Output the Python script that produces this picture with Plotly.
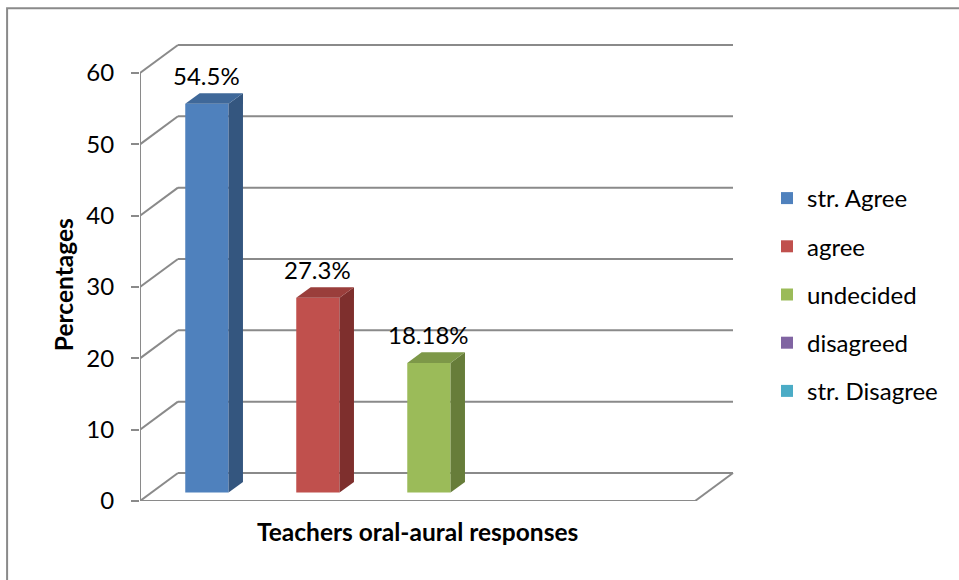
import plotly.graph_objects as go

# ---- data ----
categories = ["str. Agree", "agree", "undecided", "disagreed", "str. Disagree"]
values = [54.5, 27.3, 18.18, 0, 0]
labels = ["54.5%", "27.3%", "18.18%", "", ""]
y_ticks = [0, 10, 20, 30, 40, 50, 60]

front_colors = ["#4F81BD", "#C0504D", "#9BBB59", "#8064A2", "#4BACC6"]
side_colors = ["#34567F", "#7E2F2D", "#677D3A", "#55436D", "#327385"]
top_colors = ["#3F6899", "#9A3E3B", "#7D9848", "#675183", "#3C8CA2"]

FONT = "Lato"
GRID = "#8a8a8a"

# 3D geometry (in axis units)
D = 0.342      # depth in x units
DY = 3.93      # depth in y units
f1, f2 = 0.30, 0.68
bw = 0.39
x0, x1 = -0.5, len(categories) - 0.5

fig = go.Figure()

# front faces (bars, also provide legend)
for i, (c, v) in enumerate(zip(categories, values)):
    fig.add_trace(go.Bar(
        x=[i + f1 * D], y=[v], base=[f1 * DY], width=bw,
        name=c, legendgroup=c,
        marker=dict(color=front_colors[i], line=dict(width=0)),
        hoverinfo="skip",
    ))

# side and top faces
for i, v in enumerate(values):
    if v <= 0:
        continue
    xc = i + f1 * D
    xl, xr = xc - bw / 2, xc + bw / 2
    b = f1 * DY
    dd, ddy = (f2 - f1) * D, (f2 - f1) * DY
    fig.add_trace(go.Scatter(
        x=[xr, xr, xr + dd, xr + dd, xr], y=[b, v + b, v + b + ddy, b + ddy, b],
        fill="toself", fillcolor=side_colors[i], mode="lines",
        line=dict(width=0, color=side_colors[i]), showlegend=False, hoverinfo="skip"))
    fig.add_trace(go.Scatter(
        x=[xl, xr, xr + dd, xl + dd, xl], y=[v + b, v + b, v + b + ddy, v + b + ddy, v + b],
        fill="toself", fillcolor=top_colors[i], mode="lines",
        line=dict(width=0, color=top_colors[i]), showlegend=False, hoverinfo="skip"))

shapes = []
# gridlines on back/left walls
for t in y_ticks:
    shapes.append(dict(type="line", xref="x", yref="y", x0=x0, y0=t, x1=x0 + D, y1=t + DY,
                       line=dict(color=GRID, width=2), layer="below"))
    shapes.append(dict(type="line", xref="x", yref="y", x0=x0 + D, y0=t + DY, x1=x1 + D, y1=t + DY,
                       line=dict(color=GRID, width=2), layer="below"))
# floor front edge and right edge
shapes.append(dict(type="line", xref="x", yref="y", x0=x0, y0=0, x1=x1, y1=0,
                   line=dict(color=GRID, width=2), layer="below"))
shapes.append(dict(type="line", xref="x", yref="y", x0=x1, y0=0, x1=x1 + D, y1=DY,
                   line=dict(color=GRID, width=2), layer="below"))
# front vertical axis
shapes.append(dict(type="line", xref="x", yref="y", x0=x0, y0=0, x1=x0, y1=y_ticks[-1],
                   line=dict(color=GRID, width=2), layer="below"))
# chart border
shapes.append(dict(type="rect", xref="paper", yref="paper", x0=-0.223, y0=-0.5, x1=1.6, y1=1.069,
                   line=dict(color="#8a8a8a", width=2), layer="below"))

annotations = []
for i, (v, lab) in enumerate(zip(values, labels)):
    if not lab:
        continue
    annotations.append(dict(x=i + f1 * D, y=v + f2 * DY, xref="x", yref="y", text=lab,
                            showarrow=False, yanchor="bottom", yshift=1,
                            font=dict(family=FONT, size=24, color="black")))
annotations.append(dict(x=-0.129, y=0.4685, xref="paper", yref="paper", text="<b>Percentages</b>",
                        xanchor="center", yanchor="middle",
                        textangle=-90, showarrow=False, font=dict(family=FONT, size=24.5, color="black")))
annotations.append(dict(x=0.465, y=-0.067, xref="paper", yref="paper",
                        text="<b>Teachers oral-aural responses</b>", xanchor="center", yanchor="middle",
                        showarrow=False, font=dict(family=FONT, size=24.5, color="black")))

fig.update_layout(
    width=959, height=580,
    margin=dict(l=140, r=223, t=40, b=79),
    paper_bgcolor="white", plot_bgcolor="white",
    barmode="overlay",
    showlegend=True,
    legend=dict(x=1.052, y=0.705, xanchor="left", yanchor="top", tracegroupgap=14,
                font=dict(family=FONT, size=24, color="black"), bgcolor="rgba(0,0,0,0)"),
    xaxis=dict(range=[x0, x0 + 5.369], showgrid=False, zeroline=False, showline=False,
               showticklabels=False, ticks="", fixedrange=True),
    yaxis=dict(range=[0, 64.63], tickvals=y_ticks, showgrid=False, zeroline=False, showline=False,
               ticks="outside", ticklen=8, tickwidth=2, tickcolor=GRID, ticklabelstandoff=12,
               tickfont=dict(family=FONT, size=24, color="black"), fixedrange=True),
    shapes=shapes, annotations=annotations,
    font=dict(family=FONT),
)

fig.write_html("out.html", config={"displayModeBar": False},
               post_script="document.body.style.margin='0';")
